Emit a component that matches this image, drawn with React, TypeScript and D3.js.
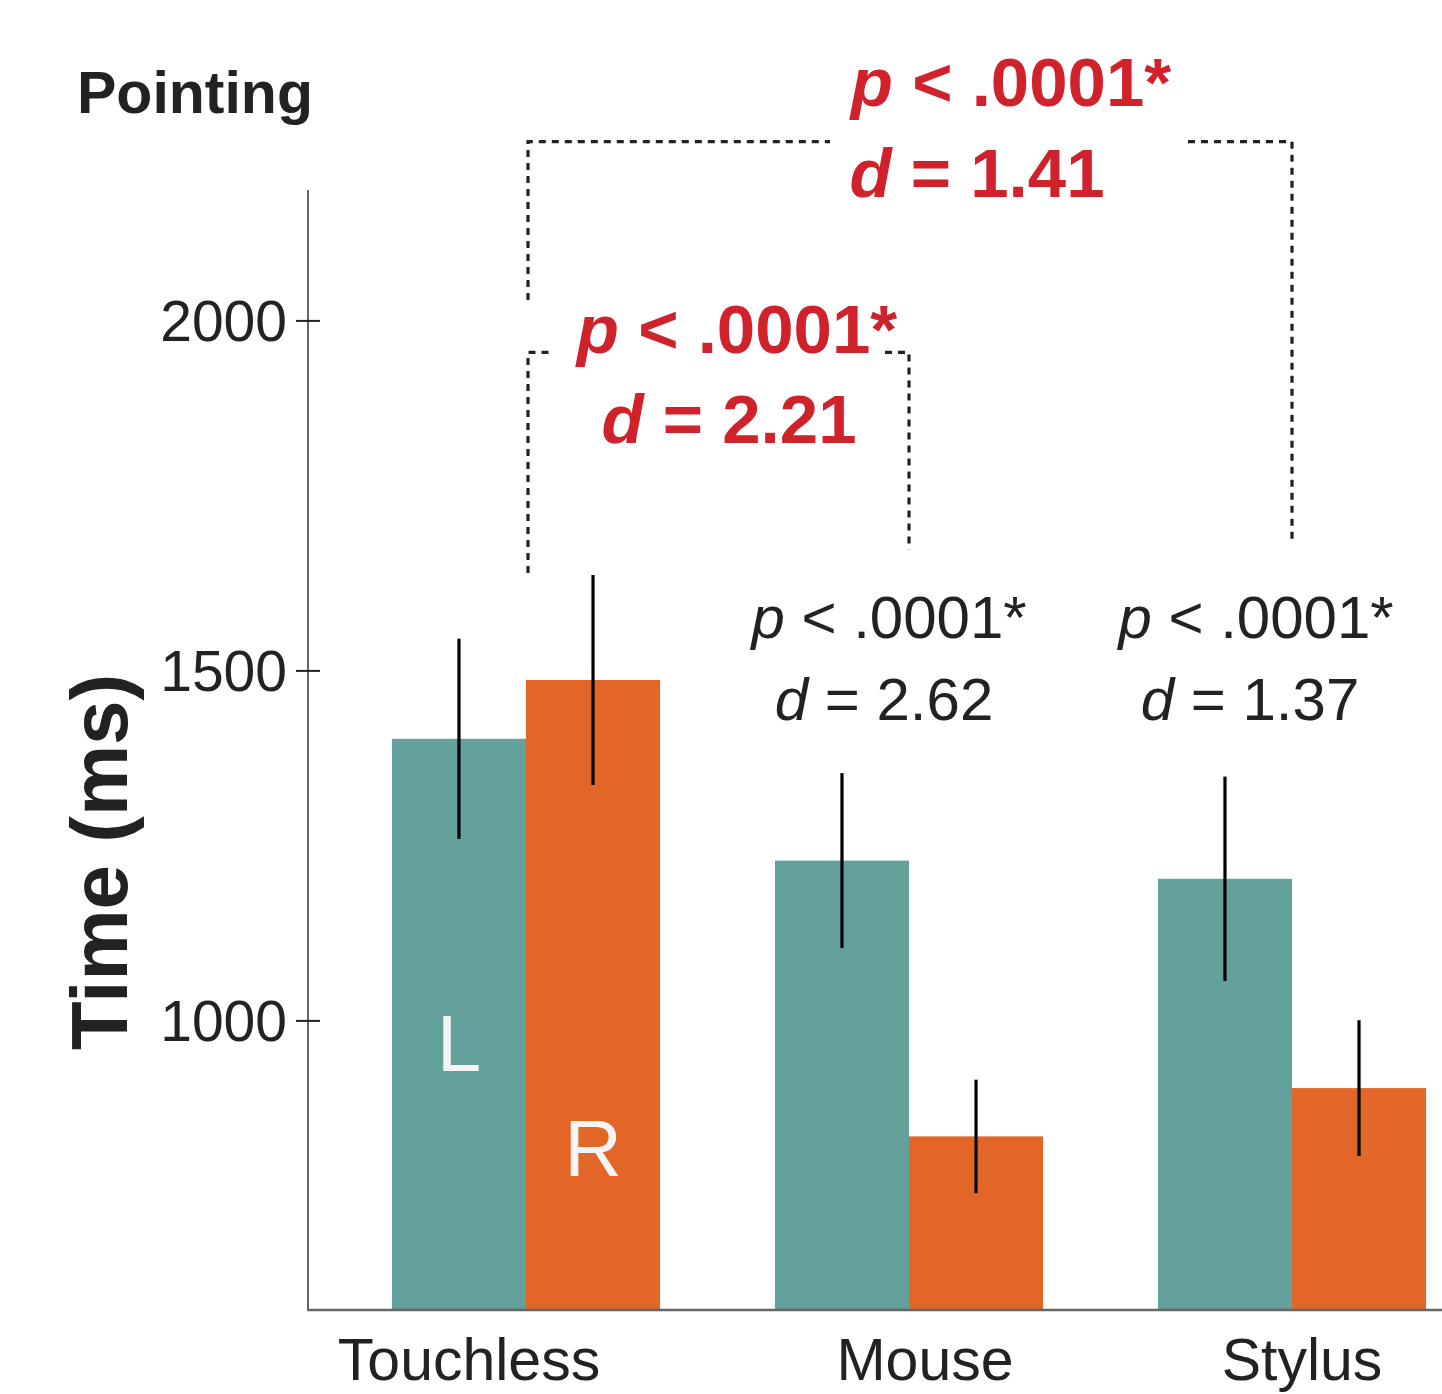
import React from "react";
import * as d3 from "d3";

// ---------- data ----------
const categories = ["Touchless", "Mouse", "Stylus"];
const hands = ["L", "R"];
const meanL = [1403, 1229, 1203];
const meanR = [1487, 835, 904];
const errL = [143, 125, 146];
const errR = [150, 81, 97];
const yTicks = [1000, 1500, 2000];
const handLabelValues = [1000, 850]; // where the in-bar "L" / "R" letters sit (value units)

// black within-device annotations (Mouse, Stylus)
const withinCats = ["Mouse", "Stylus"];
const withinP = ["p < .0001*", "p < .0001*"];
const withinD = ["2.62", "1.37"];

// red between-device brackets
const bracketFrom = ["Touchless", "Touchless"];
const bracketTo = ["Mouse", "Stylus"];
const bracketTop = [1955, 2256];
const bracketLeftEnd = [1640, 2030];
const bracketRightEnd = [1673, 1683];
const bracketD = ["2.21", "1.41"];

// ---------- layout ----------
const W = 1442;
const H = 1394;
const FONT = "'Liberation Sans', Arial, Helvetica, sans-serif";
const TEAL = "#64a09c";
const ORANGE = "#e26627";
const RED = "#d0222b";
const INK = "#222222";
const AXIS = "#666666";
const catLabelDx = [-57, 16, 10];
const withinPdx = [-20, -36];
const withinDdx = [-25, -42];
const bracketGap = [
  [552, 885],
  [830, 1188],
];
const bracketPx = [737, 1011];
const bracketDx = [729, 977];
const bracketPy = [353, 106];
const bracketDy = [443, 197];

export default function App() {
  const y = d3.scaleLinear().domain([587, 2187]).range([1310, 190]);
  const x = d3
    .scaleBand<string>()
    .domain(categories)
    .range([334.5, 1483.5])
    .paddingInner(0.3)
    .paddingOuter(0.15);
  const xs = d3.scaleBand<string>().domain(hands).range([0, x.bandwidth()]);
  const center = (c: string) => (x(c) as number) + x.bandwidth() / 2;
  const axisX = 308;
  const y0 = y.range()[0];

  const bars: any[] = [];
  categories.forEach((c, i) => {
    [
      { h: "L", m: meanL[i], e: errL[i], col: TEAL },
      { h: "R", m: meanR[i], e: errR[i], col: ORANGE },
    ].forEach((b) => {
      const bx = (x(c) as number) + (xs(b.h) as number);
      bars.push({ key: c + b.h, x: bx, w: xs.bandwidth(), y: y(b.m), col: b.col, cx: bx + xs.bandwidth() / 2, ey1: y(b.m + b.e), ey2: y(b.m - b.e) });
    });
  });

  const line = d3.line();

  return (
    <svg width={W} height={H} style={{ position: "absolute", left: 0, top: 0, background: "#fff" }} fontFamily={FONT}>
      {/* bars */}
      {bars.map((b) => (
        <rect key={b.key} x={b.x} y={b.y} width={b.w} height={y0 - b.y} fill={b.col} />
      ))}
      {/* error bars */}
      {bars.map((b) => (
        <line key={b.key + "e"} x1={b.cx} x2={b.cx} y1={b.ey1} y2={b.ey2} stroke="#000" strokeWidth={3.2} />
      ))}
      {/* in-bar hand letters */}
      {hands.map((h, i) => (
        <text key={h} x={(x("Touchless") as number) + (xs(h) as number) + xs.bandwidth() / 2} y={y(handLabelValues[i]) + 50} fill="#f4f4f4" fontSize={80} textAnchor="middle">
          {h}
        </text>
      ))}
      {/* axes */}
      <line x1={axisX} x2={axisX} y1={190} y2={y0} stroke={AXIS} strokeWidth={2} />
      <line x1={axisX - 1} x2={W} y1={y0} y2={y0} stroke={AXIS} strokeWidth={2.5} />
      {yTicks.map((t) => (
        <g key={t}>
          <line x1={axisX - 12} x2={axisX + 12} y1={y(t)} y2={y(t)} stroke={INK} strokeWidth={2} />
          <text x={287} y={y(t)} dy="0.36em" textAnchor="end" fontSize={57} fill={INK}>
            {t}
          </text>
        </g>
      ))}
      {categories.map((c, i) => (
        <text key={c} x={center(c) + catLabelDx[i]} y={1380} textAnchor="middle" fontSize={59} fill={INK}>
          {c}
        </text>
      ))}
      {/* titles */}
      <text x={77} y={113} fontSize={59} fontWeight="bold" fill={INK}>
        Pointing
      </text>
      <text transform={`translate(127, 862) rotate(-90)`} textAnchor="middle" fontSize={80} fontWeight="bold" fill={INK}>
        Time (ms)
      </text>
      {/* within-device annotations */}
      {withinCats.map((c, i) => (
        <g key={c} fontSize={60} fill={INK} textAnchor="middle">
          <text x={center(c) + withinPdx[i]} y={638}>
            <tspan fontStyle="italic">p</tspan>
            {withinP[i].slice(1)}
          </text>
          <text x={center(c) + withinDdx[i]} y={720}>
            <tspan fontStyle="italic">d</tspan>
            {" = " + withinD[i]}
          </text>
        </g>
      ))}
      {/* brackets */}
      {bracketFrom.map((f, i) => {
        const xl = center(f) + 2;
        const xr = center(bracketTo[i]);
        const yt = y(bracketTop[i]);
        const [g1, g2] = bracketGap[i];
        const left = line([
          [xl, y(bracketLeftEnd[i])],
          [xl, yt],
          [g1, yt],
        ]) as string;
        const right = line([
          [g2, yt],
          [xr, yt],
          [xr, y(bracketRightEnd[i])],
        ]) as string;
        return (
          <g key={i}>
            <path d={left} fill="none" stroke={INK} strokeWidth={3.2} strokeDasharray="7,6" />
            <path d={right} fill="none" stroke={INK} strokeWidth={3.2} strokeDasharray="7,6" />
            <g fontSize={69} fontWeight="bold" fill={RED} textAnchor="middle">
              <text x={bracketPx[i]} y={bracketPy[i]}>
                <tspan fontStyle="italic">p</tspan>
                {" < .0001*"}
              </text>
              <text x={bracketDx[i]} y={bracketDy[i]}>
                <tspan fontStyle="italic">d</tspan>
                {" = " + bracketD[i]}
              </text>
            </g>
          </g>
        );
      })}
    </svg>
  );
}
